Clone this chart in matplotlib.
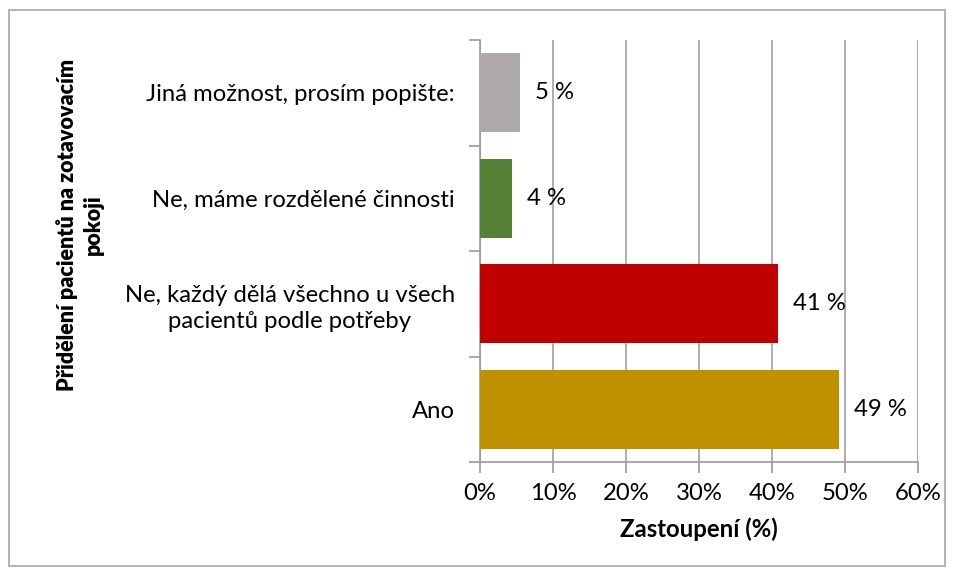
import matplotlib
matplotlib.use("Agg")
import matplotlib.pyplot as plt
from matplotlib.patches import Rectangle
from matplotlib.ticker import FixedLocator, PercentFormatter

categories = ["Ano", "Ne, každý dělá všechno u všech\npacientů podle potřeby",
              "Ne, máme rozdělené činnosti", "Jiná možnost, prosím popište:"]
values = [49.2, 40.8, 4.4, 5.5]
labels = ["49 %", "41 %", "4 %", "5 %"]
colors = ["#BF9000", "#C00000", "#538135", "#AEAAAA"]
xticks = [0, 10, 20, 30, 40, 50, 60]

plt.rcParams['font.family'] = ['Lato', 'DejaVu Sans']
FS = 17.2

fig = plt.figure(figsize=(9.55, 5.76), dpi=100)
ax = fig.add_axes([480/955, 1-462/576, (918-480)/955, (462-40)/576])

y = list(range(len(categories)))
ax.barh(y, values, height=0.75, color=colors, zorder=3)
for yi, v, lab in zip(y, values, labels):
    ax.annotate(lab, (v, yi), xytext=(15, 0), textcoords='offset pixels',
                va='center', ha='left', fontsize=FS, color='black', zorder=4)

ax.set_xlim(0, 60)
ax.set_ylim(-0.5, len(categories) - 0.5)
ax.set_xticks(xticks)
ax.xaxis.set_major_formatter(PercentFormatter(decimals=0))
ax.set_yticks(y)
ax.set_yticklabels(categories, fontsize=FS, ha='right', linespacing=1.3)
for t in ax.get_yticklabels():
    t.set_multialignment('center')
ax.tick_params(axis='y', length=0, pad=18)
ax.yaxis.set_minor_locator(FixedLocator([i - 0.5 for i in range(len(categories) + 1)]))
ax.tick_params(axis='y', which='minor', length=8, color='#999999', width=1.2)
ax.tick_params(axis='x', length=8, color='#999999', width=1.2, labelsize=FS, pad=7)
ax.grid(axis='x', color='#A0A0A0', linewidth=1.2, zorder=0)
for s in ['top', 'right']:
    ax.spines[s].set_visible(False)
for s in ['left', 'bottom']:
    ax.spines[s].set_color('#999999')
    ax.spines[s].set_linewidth(1.2)

ax.set_xlabel("Zastoupení (%)", fontsize=FS, fontweight='bold', labelpad=10)
fig.text(80/955, 1-225/576, "Přidělení pacientů na zotavovacím\npokoji", rotation=90,
         fontsize=15.5, fontweight='heavy', ha='center', va='center', multialignment='center',
         linespacing=1.25)

fig.patches.append(Rectangle((9/955, 1-566/576), (945-9)/955, (566-10)/576,
                             transform=fig.transFigure, fill=False, edgecolor='#A6A6A6', linewidth=1.2))

fig.savefig("out.png", dpi=100)
